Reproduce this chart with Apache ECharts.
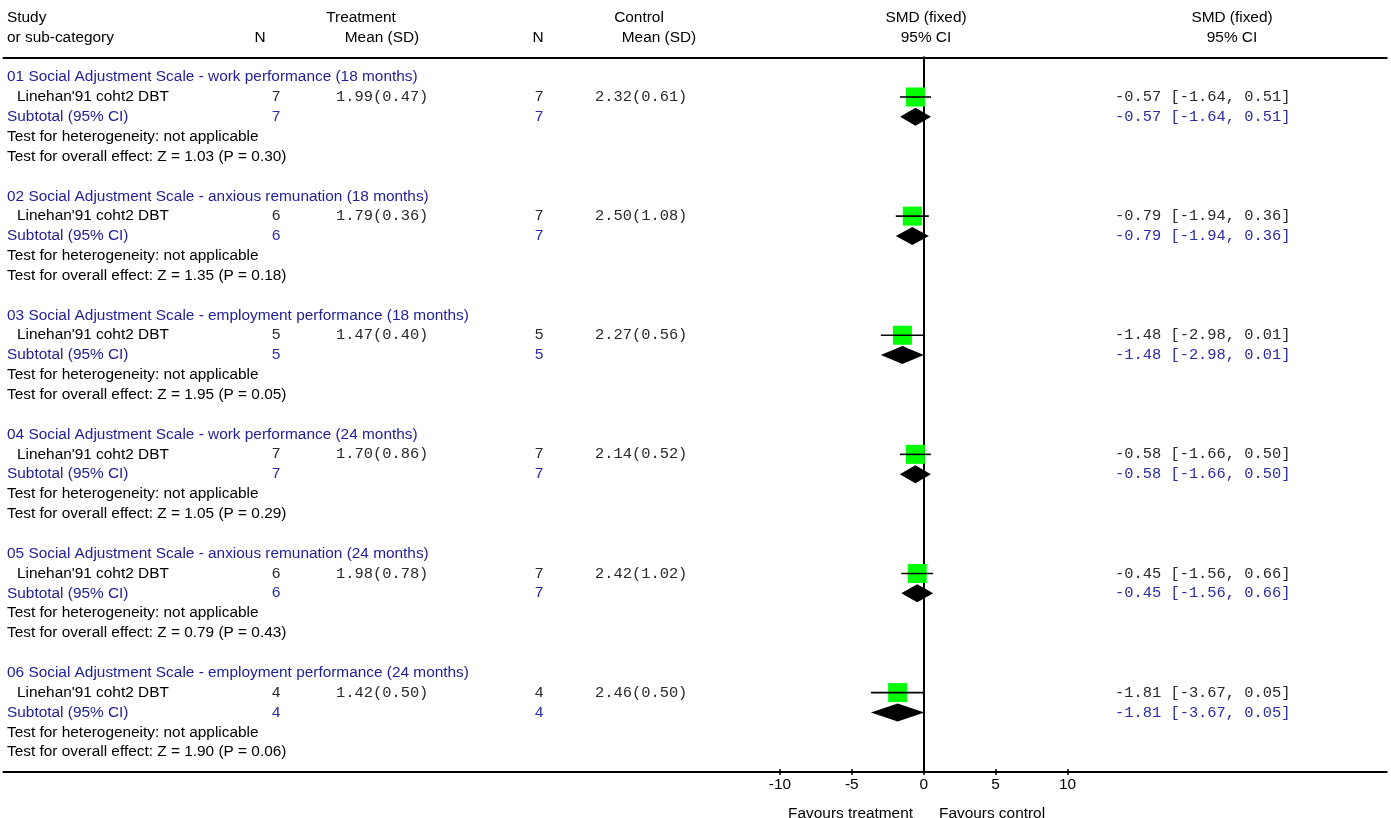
<!DOCTYPE html>
<html>
<head>
<meta charset="utf-8">
<script src="https://cdn.jsdelivr.net/npm/echarts@6/dist/echarts.min.js"></script>
<style>
html,body{margin:0;padding:0;background:#fff;}
#chart{width:1391px;height:818px;}
</style>
</head>
<body>
<div id="chart"></div>
<script>
// ---------------- DATA ----------------
const groupTitles = [
  '01 Social Adjustment Scale - work performance (18 months)',
  '02 Social Adjustment Scale - anxious remunation (18 months)',
  '03 Social Adjustment Scale - employment performance (18 months)',
  '04 Social Adjustment Scale - work performance (24 months)',
  '05 Social Adjustment Scale - anxious remunation (24 months)',
  '06 Social Adjustment Scale - employment performance (24 months)'
];
const studyNames = ["Linehan'91 coht2 DBT","Linehan'91 coht2 DBT","Linehan'91 coht2 DBT","Linehan'91 coht2 DBT","Linehan'91 coht2 DBT","Linehan'91 coht2 DBT"];
const nTreat    = [7, 6, 5, 7, 6, 4];
const meanTreat = ['1.99','1.79','1.47','1.70','1.98','1.42'];
const sdTreat   = ['0.47','0.36','0.40','0.86','0.78','0.50'];
const nCtrl     = [7, 7, 5, 7, 7, 4];
const meanCtrl  = ['2.32','2.50','2.27','2.14','2.42','2.46'];
const sdCtrl    = ['0.61','1.08','0.56','0.52','1.02','0.50'];
const smd       = [-0.57, -0.79, -1.48, -0.58, -0.45, -1.81];
const ciLow     = [-1.64, -1.94, -2.98, -1.66, -1.56, -3.67];
const ciHigh    = [0.51, 0.36, 0.01, 0.50, 0.66, 0.05];
const subSmd    = [-0.57, -0.79, -1.48, -0.58, -0.45, -1.81];
const subLow    = [-1.64, -1.94, -2.98, -1.66, -1.56, -3.67];
const subHigh   = [0.51, 0.36, 0.01, 0.50, 0.66, 0.05];
const zValues   = ['1.03','1.35','1.95','1.05','0.79','1.90'];
const pValues   = ['0.30','0.18','0.05','0.29','0.43','0.06'];
const xTicks    = [-10, -5, 0, 5, 10];

// ---------------- LAYOUT / STYLE ----------------
const SANS = '15.4px "Liberation Sans", Arial, sans-serif';
const MONO = '15.4px "Liberation Mono", "Courier New", monospace';
const BLACK = '#000';
const MONO_BLACK = '#2a2a2a';
const BLUE = '#1e1e96';
const MONO_BLUE = '#2c2ca6';
const GREEN = '#00ff00';
const SQUARE = 19;
const DIAMOND_H = 18;
const col = {
  left: 7, study: 17, nT: 276, meanT: 336, nC: 539, meanC: 595, ci: 1115,
  hN_T: 260, hTreat: 361, hMeanT: 382, hN_C: 538, hCtrl: 639, hMeanC: 659,
  hSmd1: 926, hSmd2: 1232, favT: 913, favC: 939
};
const ROWS_PER_GROUP = 6;
const FAVOURS_ROW = 37.1;

function ciText(e, lo, hi){
  return (e < 0 ? '-' : '') + Math.abs(e).toFixed(2) + ' [' +
         (lo < 0 ? '-' : '') + Math.abs(lo).toFixed(2) + ', ' +
         (hi < 0 ? '-' : '') + Math.abs(hi).toFixed(2) + ']';
}

// text table
const texts = [];
function T(row, x, text, align, font, color){ texts.push({row, x, text, align, font, color}); }
T(-3, col.left, 'Study', 'left', SANS, BLACK);
T(-2, col.left, 'or sub-category', 'left', SANS, BLACK);
T(-2, col.hN_T, 'N', 'center', SANS, BLACK);
T(-3, col.hTreat, 'Treatment', 'center', SANS, BLACK);
T(-2, col.hMeanT, 'Mean (SD)', 'center', SANS, BLACK);
T(-2, col.hN_C, 'N', 'center', SANS, BLACK);
T(-3, col.hCtrl, 'Control', 'center', SANS, BLACK);
T(-2, col.hMeanC, 'Mean (SD)', 'center', SANS, BLACK);
T(-3, col.hSmd1, 'SMD (fixed)', 'center', SANS, BLACK);
T(-2, col.hSmd1, '95% CI', 'center', SANS, BLACK);
T(-3, col.hSmd2, 'SMD (fixed)', 'center', SANS, BLACK);
T(-2, col.hSmd2, '95% CI', 'center', SANS, BLACK);

groupTitles.forEach((g, i) => {
  const r = i * ROWS_PER_GROUP;
  T(r, col.left, g, 'left', SANS, BLUE);
  T(r + 1, col.study, studyNames[i], 'left', SANS, BLACK);
  T(r + 1, col.nT, String(nTreat[i]), 'center', MONO, MONO_BLACK);
  T(r + 1, col.meanT, meanTreat[i] + '(' + sdTreat[i] + ')', 'left', MONO, MONO_BLACK);
  T(r + 1, col.nC, String(nCtrl[i]), 'center', MONO, MONO_BLACK);
  T(r + 1, col.meanC, meanCtrl[i] + '(' + sdCtrl[i] + ')', 'left', MONO, MONO_BLACK);
  T(r + 1, col.ci, ciText(smd[i], ciLow[i], ciHigh[i]), 'left', MONO, MONO_BLACK);
  T(r + 2, col.left, 'Subtotal (95% CI)', 'left', SANS, BLUE);
  T(r + 2, col.nT, String(nTreat[i]), 'center', MONO, MONO_BLUE);
  T(r + 2, col.nC, String(nCtrl[i]), 'center', MONO, MONO_BLUE);
  T(r + 2, col.ci, ciText(subSmd[i], subLow[i], subHigh[i]), 'left', MONO, MONO_BLUE);
  T(r + 3, col.left, 'Test for heterogeneity: not applicable', 'left', SANS, BLACK);
  T(r + 4, col.left, 'Test for overall effect: Z = ' + zValues[i] + ' (P = ' + pValues[i] + ')', 'left', SANS, BLACK);
});
T(FAVOURS_ROW, col.favT, 'Favours treatment', 'right', SANS, BLACK);
T(FAVOURS_ROW, col.favC, 'Favours control', 'left', SANS, BLACK);

const studyData = smd.map((v, i) => [v, i * ROWS_PER_GROUP + 1, ciLow[i], ciHigh[i]]);
const subData = subSmd.map((v, i) => [v, i * ROWS_PER_GROUP + 2, subLow[i], subHigh[i]]);

const chart = echarts.init(document.getElementById('chart'), null, {renderer: 'canvas'});
const option = {
  animation: false,
  backgroundColor: '#fff',
  grid: { left: 3.4, right: 4.3, top: 57.3, bottom: 46, containLabel: false },
  xAxis: [
    {
      type: 'value', position: 'bottom', min: -64, max: 32.2,
      axisLine: { show: true, onZero: false, lineStyle: { color: '#000', width: 2 } },
      axisTick: { show: true, customValues: xTicks, length: 3, lineStyle: { color: '#000', width: 1.5 } },
      axisLabel: { show: true, customValues: xTicks, margin: 5, color: '#000',
                   fontFamily: '"Liberation Sans", Arial, sans-serif', fontSize: 15.4 },
      splitLine: { show: false }
    },
    {
      type: 'value', position: 'top', min: -64, max: 32.2,
      axisLine: { show: true, onZero: false, lineStyle: { color: '#000', width: 2 } },
      axisTick: { show: false }, axisLabel: { show: false }, splitLine: { show: false }
    },
    {
      type: 'value', position: 'bottom', min: -64, max: 32.2,
      axisLine: { show: false, onZero: false },
      axisTick: { show: true, inside: true, customValues: xTicks, length: 3, lineStyle: { color: '#000', width: 1.5 } },
      axisLabel: { show: false }, splitLine: { show: false }
    }
  ],
  yAxis: {
    type: 'value', inverse: true, min: -1, max: 35,
    axisLine: { show: true, onZero: true, lineStyle: { color: '#000', width: 2 } },
    axisTick: { show: false }, axisLabel: { show: false }, splitLine: { show: false }
  },
  series: [
    {
      type: 'custom', name: 'studies', xAxisIndex: 0, clip: false, z: 5,
      data: studyData, encode: { x: 0, y: 1 },
      renderItem: function (params, api) {
        const y = api.value(1);
        const c = api.coord([api.value(0), y]);
        const lo = api.coord([api.value(2), y]);
        const hi = api.coord([api.value(3), y]);
        return { type: 'group', children: [
          { type: 'rect', shape: { x: c[0] - SQUARE / 2, y: c[1] - SQUARE / 2, width: SQUARE, height: SQUARE },
            style: { fill: GREEN } },
          { type: 'line', shape: { x1: lo[0], y1: c[1], x2: hi[0], y2: c[1] },
            style: { stroke: '#000', lineWidth: 1.6 } }
        ]};
      }
    },
    {
      type: 'custom', name: 'subtotals', xAxisIndex: 0, clip: false, z: 5,
      data: subData, encode: { x: 0, y: 1 },
      renderItem: function (params, api) {
        const y = api.value(1);
        const c = api.coord([api.value(0), y]);
        const lo = api.coord([api.value(2), y]);
        const hi = api.coord([api.value(3), y]);
        return { type: 'polygon',
          shape: { points: [[lo[0], c[1]], [c[0], c[1] - DIAMOND_H / 2], [hi[0], c[1]], [c[0], c[1] + DIAMOND_H / 2]] },
          style: { fill: '#000' } };
      }
    },
    {
      type: 'custom', name: 'texts', xAxisIndex: 0, clip: false, silent: true, z: 6,
      data: texts.map(t => [0, t.row]), encode: { x: 0, y: 1 },
      renderItem: function (params, api) {
        const t = texts[params.dataIndex];
        const p = api.coord([0, api.value(1)]);
        return { type: 'text', x: t.x, y: p[1],
          style: { text: t.text, font: t.font, fill: t.color, align: t.align, verticalAlign: 'middle' } };
      }
    }
  ]
};
chart.setOption(option);
</script>
</body>
</html>
